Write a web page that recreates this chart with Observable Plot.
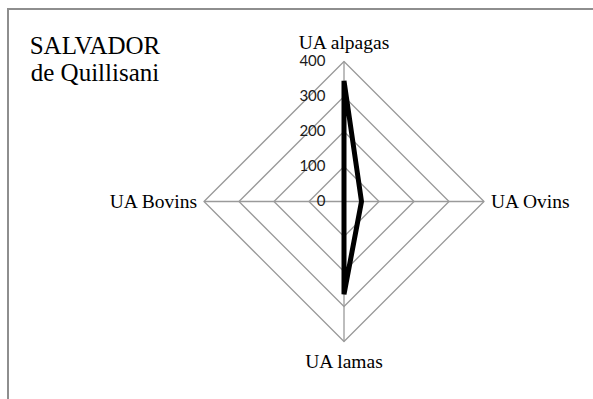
<!DOCTYPE html>
<html><head><meta charset="utf-8">
<script src="https://cdn.jsdelivr.net/npm/d3@7"></script>
<script src="https://cdn.jsdelivr.net/npm/@observablehq/plot@0.6"></script>
<style>
html,body{margin:0;padding:0;background:#fff;width:593px;height:399px;overflow:hidden}
#wrap{position:relative;width:593px;height:399px}
#border{position:absolute;left:7px;top:8px;width:620px;height:420px;border-left:2px solid #8e8e8e;border-top:2px solid #8e8e8e}
#chart{position:absolute;left:0;top:0}
#title{position:absolute;left:0;top:31.5px;width:190px;text-align:center;font-family:"Liberation Serif";font-size:25px;line-height:27px;color:#000}
</style></head><body>
<div id="wrap"><div id="border"></div><div id="chart"></div><div id="title"></div></div>
<script>
const titleLines = ["SALVADOR", "de Quillisani"];
const categories = ["UA alpagas", "UA Ovins", "UA lamas", "UA Bovins"];
const values = [345, 50, 265, 0];
const ticks = [0, 100, 200, 300, 400];

const W = 593, H = 399, cx = 343.5, cy = 201, R = 140, vmax = 400;
const k = R / vmax;
const xDomain = [-cx / k, (W - cx) / k];
const yDomain = [-(H - cy) / k, cy / k];
const n = categories.length;
const ang = i => Math.PI / 2 - i * 2 * Math.PI / n;
const pt = (v, i) => ({x: v * Math.cos(ang(i)), y: v * Math.sin(ang(i))});

const rings = ticks.filter(t => t > 0).flatMap(t =>
  [...categories, categories[0]].map((c, j) => ({t, ...pt(t, j % n)})));
const spokes = categories.map((c, i) => ({c, ...pt(vmax, i)}));
const poly = [...values, values[0]].map((v, j) => pt(v, j % n));

const labelFont = {fontFamily: "Liberation Serif", fontSize: 19.5, fill: "#000"};
const lab = (i, o) => Plot.text([{c: categories[i], ...pt(vmax, i)}],
  {x: "x", y: "y", text: "c", ...labelFont, ...o});

const chart = Plot.plot({
  width: W, height: H, margin: 0,
  x: {domain: xDomain, axis: null},
  y: {domain: yDomain, axis: null},
  style: {background: "transparent", overflow: "visible", fontFamily: "Liberation Serif"},
  marks: [
    Plot.line(rings, {x: "x", y: "y", z: "t", stroke: "#9a9a9a", strokeWidth: 1.3}),
    Plot.link(spokes, {x1: () => 0, y1: () => 0, x2: "x", y2: "y", stroke: "#9a9a9a", strokeWidth: 1.3}),
    Plot.line(poly, {x: "x", y: "y", stroke: "#000", strokeWidth: 5, strokeLinejoin: "miter", strokeLinecap: "butt"}),
    Plot.text(ticks, {x: () => 0, y: d => d, text: d => String(d), textAnchor: "end", dx: -18.5,
      fontFamily: "Lato", fontSize: 15, fill: "#1a1a1a"}),
    lab(0, {textAnchor: "middle", lineAnchor: "bottom", dy: -13}),
    lab(1, {textAnchor: "start", lineAnchor: "middle", dx: 7}),
    lab(2, {textAnchor: "middle", lineAnchor: "bottom", dy: 26.5}),
    lab(3, {textAnchor: "end", lineAnchor: "middle", dx: -7})
  ]
});
document.getElementById("chart").appendChild(chart);
const t = document.getElementById("title");
titleLines.forEach(s => { const d = document.createElement("div"); d.textContent = s; t.appendChild(d); });
</script>
</body></html>
